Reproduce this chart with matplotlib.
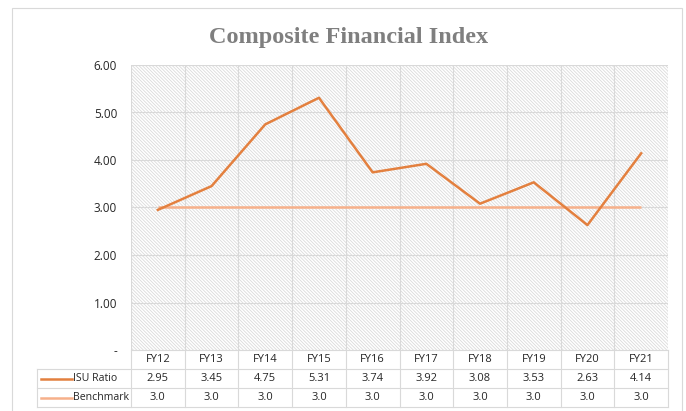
import matplotlib
matplotlib.use("Agg")
import matplotlib.pyplot as plt
import matplotlib.transforms as mtransforms
from matplotlib.lines import Line2D
from matplotlib.patches import Rectangle

years = ["FY12", "FY13", "FY14", "FY15", "FY16", "FY17", "FY18", "FY19", "FY20", "FY21"]
isu_ratio = [2.95, 3.45, 4.75, 5.31, 3.74, 3.92, 3.08, 3.53, 2.63, 4.14]
benchmark = [3.0] * 10
yticks = [0, 1, 2, 3, 4, 5, 6]
ytick_labels = ["-", "1.00", "2.00", "3.00", "4.00", "5.00", "6.00"]

ISU_COLOR = "#E3803F"
BENCH_COLOR = "#F6B08A"
GRID = "#d9d9d9"
TEXT = "#262626"
W, H = 686, 411

plt.rcParams["font.family"] = ["Open Sans", "DejaVu Sans"]
plt.rcParams["hatch.linewidth"] = 0.6

fig = plt.figure(figsize=(W / 100, H / 100), dpi=100)
ax = fig.add_axes([131 / W, (H - 350) / H, (668 - 131) / W, (350 - 65) / H])

# hatched plot background
ax.add_patch(Rectangle((0, 0), 1, 1, transform=ax.transAxes, facecolor="white",
                       edgecolor="#dadada", hatch="\\" * 10, lw=0, zorder=0))

x = list(range(len(years)))
ax.set_xlim(-0.5, len(years) - 0.5)
ax.set_ylim(0, 6)
for y in yticks[1:]:
    ax.axhline(y, color=GRID, lw=0.8, zorder=1)
for b in range(len(years) + 1):
    ax.axvline(b - 0.5, color=GRID, lw=0.8, zorder=1)

ax.plot(x, benchmark, color=BENCH_COLOR, lw=1.8, zorder=3, solid_capstyle="butt")
ax.plot(x, isu_ratio, color=ISU_COLOR, lw=1.8, zorder=4)

ax.set_yticks(yticks)
ax.set_yticklabels(ytick_labels, fontsize=8.5, color=TEXT)
ax.tick_params(axis="y", length=0, pad=10)
ax.set_xticks([])
for s in ax.spines.values():
    s.set_visible(False)

fig.text(349 / W, 1 - 37 / H, "Composite Financial Index", ha="center", va="center",
         fontsize=17.5, fontweight="bold", color="#7f7f7f", family="Liberation Serif")

# data table under the plot
tr = mtransforms.blended_transform_factory(ax.transData, fig.transFigure)
ftr = fig.transFigure

def fy(py):
    return 1 - py / H

row_top, row1, row2, row_bot = 350, 369, 388, 407
xl, xr = -0.5, len(years) - 0.5
left_px = 37

# horizontal lines
fig.add_artist(Line2D([xl, xr], [fy(row_top)] * 2, transform=tr, color=GRID, lw=0.8))
for py in (row1, row2, row_bot):
    fig.add_artist(Line2D([left_px / W, 668 / W], [fy(py)] * 2, transform=ftr, color=GRID, lw=0.8))
# vertical lines
for b in range(len(years) + 1):
    fig.add_artist(Line2D([b - 0.5] * 2, [fy(row_top), fy(row_bot)], transform=tr, color=GRID, lw=0.8))
fig.add_artist(Line2D([left_px / W] * 2, [fy(row1), fy(row_bot)], transform=ftr, color=GRID, lw=0.8))

for i, yr in enumerate(years):
    fig.text(i, fy((row_top + row1) / 2), yr, transform=tr, ha="center", va="center",
             fontsize=8, color=TEXT)
    fig.text(i, fy((row1 + row2) / 2), f"{isu_ratio[i]:.2f}", transform=tr, ha="center",
             va="center", fontsize=8, color=TEXT)
    fig.text(i, fy((row2 + row_bot) / 2), f"{benchmark[i]:.1f}", transform=tr, ha="center",
             va="center", fontsize=8, color=TEXT)

# legend keys in the table
for (top, bot), label, col in (((row1, row2), "ISU Ratio", ISU_COLOR),
                               ((row2, row_bot), "Benchmark", BENCH_COLOR)):
    ym = fy((top + bot) / 2)
    fig.add_artist(Line2D([41 / W, 72 / W], [ym, ym], transform=ftr, color=col, lw=1.8))
    fig.text(73 / W, ym, label, ha="left", va="center", fontsize=7.6, color=TEXT)

# chart border
fig.add_artist(Rectangle((12 / W, -0.1), (682 - 12) / W, fy(8) + 0.1, transform=ftr,
                         fill=False, edgecolor=GRID, lw=0.8))

fig.savefig("out.png", dpi=100)
